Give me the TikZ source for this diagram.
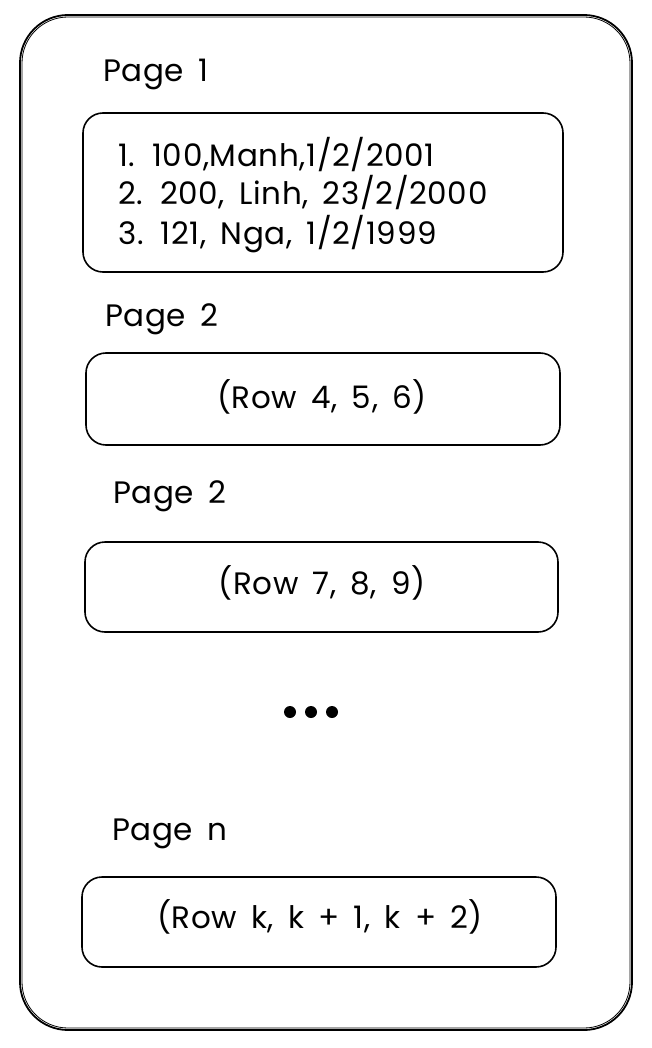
\documentclass[tikz,border=0pt]{standalone}
\usepackage{fontspec}
\setmainfont[WordSpace=1.6,LetterSpace=2]{Poppins}
\begin{document}
\begin{tikzpicture}[x=1pt,y=-1pt,
  box/.style={draw, line width=1.6pt, rounded corners=20pt, inner sep=0pt},
  txt/.style={font=\fontsize{31}{36}\selectfont, inner sep=0pt},
  lbl/.style={txt, anchor=base west},
  row/.style={txt, anchor=base},
  dot/.style={fill=black, circle, minimum size=12pt, inner sep=0pt}]
\useasboundingbox (0,0) rectangle (652,1048);
\draw[line width=1.8pt, rounded corners=48pt] (20,15) rectangle (632,1030);
\draw[line width=0.8pt, rounded corners=46pt] (22,17) rectangle (630,1028);
% Page 1
\node[lbl] (p1) at (103,82) {Page 1};
\node[box, minimum width=480pt, minimum height=159pt] (b1) at (323,192.5) {};
\node[lbl] (l1) at (118,167) {1. 100,Manh,1/2/2001};
\node[lbl] (l2) at (118,205) {2. 200, Linh, 23/2/2000};
\node[lbl] (l3) at (118,245) {3. 121, Nga, 1/2/1999};
% Page 2
\node[lbl] (p2) at (105,326) {Page 2};
\node[box, minimum width=474pt, minimum height=92pt] (b2) at (323,399) {};
\node[row] (r2) at (322,408) {(Row 4, 5, 6)};
% Page 2 (second)
\node[lbl] (p3) at (113,503) {Page 2};
\node[box, minimum width=473pt, minimum height=90pt] (b3) at (321.5,587) {};
\node[row] (r3) at (322,594) {(Row 7, 8, 9)};
% dots
\node[dot] (d1) at (290,712) {};
\node[dot] (d2) at (311,712) {};
\node[dot] (d3) at (332,712) {};
% Page n
\node[lbl] (pn) at (112,840) {Page n};
\node[box, minimum width=474pt, minimum height=90pt] (b4) at (319,922) {};
\node[row] (r4) at (320,928) {(Row k, k + 1, k + 2)};
\end{tikzpicture}
\end{document}
